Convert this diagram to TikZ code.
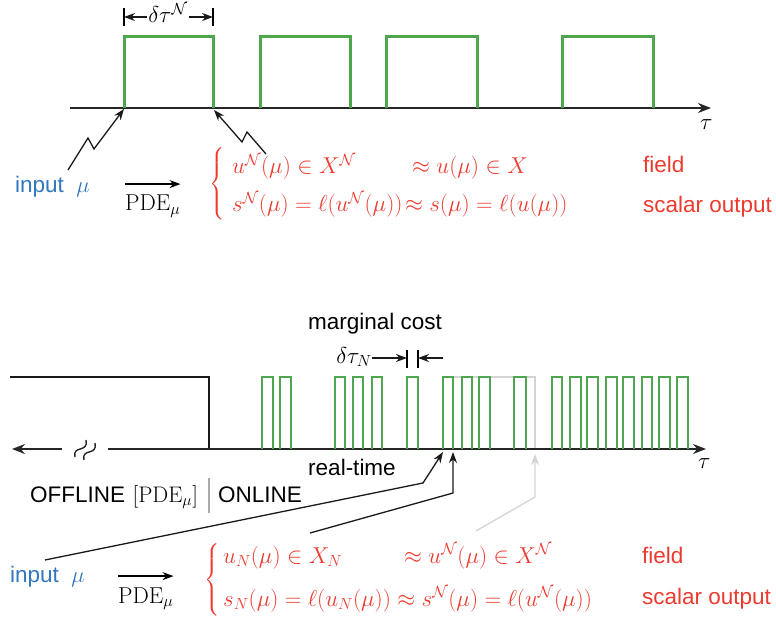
\RequirePackage{fix-cm}
\documentclass[tikz,border=0pt]{standalone}
\usepackage{amsmath}
\usepackage{fontspec}
\newfontfamily\hv{Liberation Sans}
\usetikzlibrary{arrows.meta}
\definecolor{grn}{RGB}{78,166,78}
\definecolor{rd}{RGB}{236,58,46}
\definecolor{bl}{RGB}{50,118,190}
\definecolor{gry}{RGB}{212,212,212}
\tikzset{
  lbl/.style={font=\hv\fontsize{22.5}{27}\selectfont, inner sep=0pt, anchor=base west},
  mth/.style={font=\fontsize{23}{27}\selectfont, inner sep=0pt, anchor=base west},
  brc/.style={font=\fontsize{19}{22}\selectfont, inner sep=0pt, anchor=east, text=rd},
  axisline/.style={line width=1.4pt, black!85},
  gp/.style={line width=3pt, grn},
  gpn/.style={line width=2.6pt, grn},
  ptr/.style={line width=1.3pt, black!90, -{Stealth[length=11pt,width=8pt]}},
  bigtip/.style={-{Stealth[length=13pt,width=10pt]}},
  bar/.style={line width=2.2pt, black},
  squig/.style={line width=1.4pt, black!85}
}
\begin{document}
\begin{tikzpicture}[x=1pt,y=-1pt]
\useasboundingbox (0,0) rectangle (776,617);

%================ TOP ================
\draw[axisline,bigtip] (70,108) -- (711,108);
\node[mth] (tau1) at (700,130) {$\tau$};
\foreach \a/\b in {124/213,260/350,386/477,562/653}
  \draw[gp] (\a,108) -- (\a,37) -- (\b,37) -- (\b,108);

% dimension
\coordinate (b1) at (124,17);
\coordinate (b2) at (213,17);
\draw[bar] (124,8) -- (124,26);
\draw[bar] (213,8) -- (213,26);
\node[mth, anchor=base] (dt) at (168,23) {$\delta\tau^{\mathcal N}$};
\draw[ptr] (dt.west |- b1) ++(-1,0) -- (b1);
\draw[ptr] (dt.east |- b2) ++(1,0) -- (b2);

% input
\node[lbl, text=bl] (in1) at (15,193) {input\ \ $\mu$};
\coordinate (s1) at (68,170);
\coordinate (t1) at (124,109);
\coordinate (s2) at (266,154);
\coordinate (t2) at (214,110);
\draw[ptr] (s1) -- (88,138) -- (94,149) -- (t1);
\draw[ptr] (s2) -- (247,132) -- (242,142) -- (t2);

\node[mth] (pde1) at (125,211) {$\mathrm{PDE}_\mu$};
\draw[line width=1.4pt, -{Stealth[length=11pt,width=8pt]}] ([yshift=11pt]pde1.north west) -- ([yshift=11pt]pde1.north east);

\node[brc] (br1) at (226,184) {$\left\{\vrule height 30pt depth 30pt width 0pt\right.$};
\node[mth, text=rd] (a1) at (232,174) {$u^{\mathcal N}(\mu)\in X^{\mathcal N}$};
\node[mth, text=rd] (a2) at (412,174) {$\approx u(\mu)\in X$};
\node[mth, text=rd] (a3) at (232,212) {$s^{\mathcal N}(\mu)=\ell(u^{\mathcal N}(\mu))\!\approx s(\mu)=\ell(u(\mu))$};
\node[lbl, text=rd] (f1) at (643,173) {field};
\node[lbl, text=rd] (o1) at (643,213) {scalar output};

%================ BOTTOM ================
\draw[gry, line width=2.4pt] (453,377) -- (535,377) -- (535,449);
\draw[line width=1.8pt, black!90] (10,377) -- (209,377) -- (209,449);
\draw[axisline,bigtip] (62,449) -- (12,449);
\draw[axisline,bigtip] (108,449) -- (706,449);
\draw[squig] (75,457) .. controls (72,445) and (89,453) .. (86,440);
\draw[squig] (84,460) .. controls (81,448) and (98,456) .. (95,443);
\node[mth] (tau2) at (698,468) {$\tau$};
\foreach \a/\b in {262/273,280/291,335/345,353/363,372/382,407/418,443/453,462/472,479/490,514/526,552/562,570/581,587/598,606/617,623/634,642/652,659/670,677/688}
  \draw[gpn] (\a,449) -- (\a,377) -- (\b,377) -- (\b,449);

\node[lbl, anchor=base] (mc) at (375,330) {marginal cost};
\node[mth, anchor=base east] (dtn) at (372,363) {$\delta\tau_N$};
\coordinate (c1) at (407,358);
\coordinate (c2) at (418,358);
\coordinate (c3) at (443,358);
\draw[bar] (407,350) -- (407,368);
\draw[bar] (418,350) -- (418,368);
\draw[ptr] (dtn.east |- c1) -- (c1);
\draw[ptr] (c3) -- (c2);

\node[lbl, anchor=base] (rt) at (352,475) {real-time};
\node[lbl] (off) at (30,502) {OFFLINE\,\,$[\mathrm{PDE}_\mu]$};
\draw[gry!80!black, line width=1.3pt] (209,478) -- (209,513);
\node[lbl] (on) at (218,502) {ONLINE};

\node[lbl, text=bl] (in2) at (10,582) {input\ \ $\mu$};
\coordinate (u1) at (45,560);
\coordinate (u2) at (310,533);
\coordinate (u3) at (476,531);
\draw[ptr] (u1) -- (423,483) -- (443,452);
\draw[ptr] (u2) -- (453,493) -- (453,452);
\draw[line width=1.3pt, gry, -{Stealth[length=11pt,width=8pt]}] (u3) -- (535,497) -- (535,454);

\node[mth] (pde2) at (118,603) {$\mathrm{PDE}_\mu$};
\draw[line width=1.4pt, -{Stealth[length=11pt,width=8pt]}] ([yshift=11pt]pde2.north west) -- ([yshift=11pt]pde2.north east);

\node[brc] (br2) at (221,580) {$\left\{\vrule height 30pt depth 30pt width 0pt\right.$};
\node[mth, text=rd] (b1) at (223,563) {$u_N(\mu)\in X_N$};
\node[mth, text=rd] (b2) at (404,563) {$\approx u^{\mathcal N}(\mu)\in X^{\mathcal N}$};
\node[mth, text=rd] (b3) at (223,606) {$s_N(\mu)=\ell(u_N(\mu))\approx s^{\mathcal N}(\mu)=\ell(u^{\mathcal N}(\mu))$};
\node[lbl, text=rd] (f2) at (642,563) {field};
\node[lbl, text=rd] (o2) at (642,604) {scalar output};
\end{tikzpicture}
\end{document}
